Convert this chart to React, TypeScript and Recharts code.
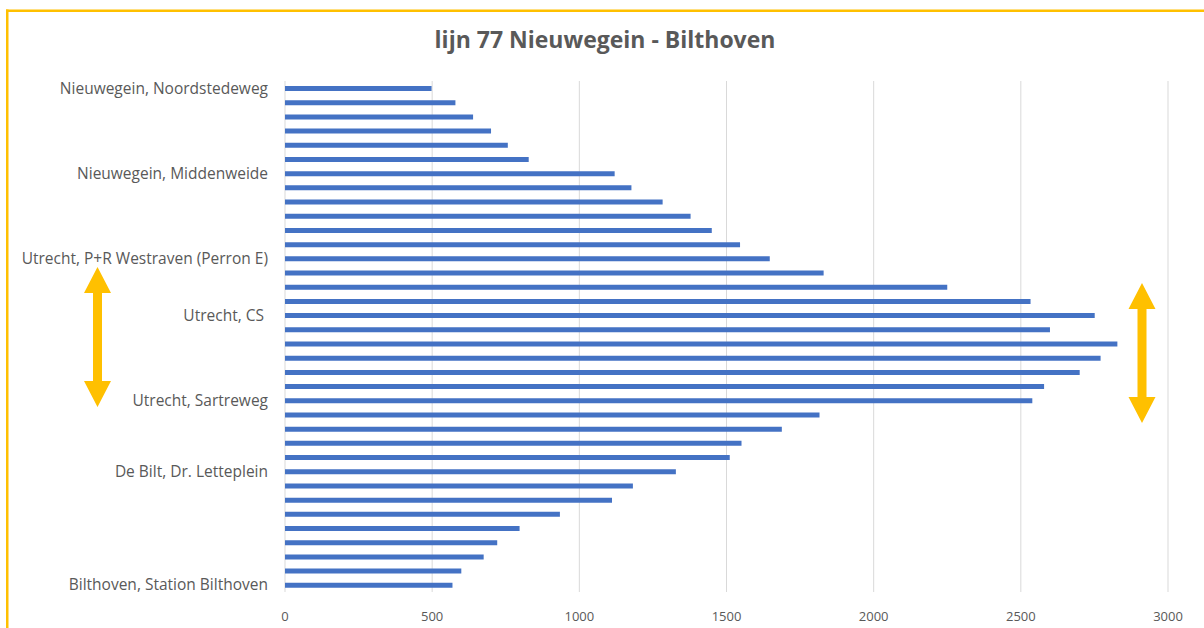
import { BarChart, Bar, XAxis, YAxis, CartesianGrid } from "recharts";

// stop labels (only some stops carry a name on the axis)
const stopLabels = [
  "Nieuwegein, Noordstedeweg", "", "", "", "", "",
  "Nieuwegein, Middenweide", "", "", "", "", "",
  "Utrecht, P+R Westraven (Perron E)", "", "", "",
  "Utrecht, CS\u00A0", "", "", "", "", "",
  "Utrecht, Sartreweg", "", "", "", "",
  "De Bilt, Dr. Letteplein", "", "", "", "", "", "", "",
  "Bilthoven, Station Bilthoven",
];

// passengers per stop
const passengers = [
  498, 579, 639, 700, 757, 828,
  1120, 1177, 1283, 1378, 1450, 1546,
  1647, 1830, 2250, 2533, 2751, 2599,
  2828, 2771, 2700, 2579, 2539, 1816,
  1688, 1551, 1511, 1328, 1182, 1111,
  934, 797, 721, 675, 599, 569,
];

const xTicks = [0, 500, 1000, 1500, 2000, 2500, 3000];

const TITLE = "lijn 77 Nieuwegein - Bilthoven";
const GOLD = "#FFC000";
const TEXT = "#595959";
const FONT = "'Open Sans', sans-serif";

const data = passengers.map((v, i) => ({ idx: i, value: v }));

// double-headed block arrow, centred on cx
function Arrow({ cx, top, bottom }: { cx: number; top: number; bottom: number }) {
  const head = 26, hw = 13.5, sw = 4.5;
  const d = [
    `M${cx} ${top}`,
    `L${cx + hw} ${top + head}`,
    `L${cx + sw} ${top + head}`,
    `L${cx + sw} ${bottom - head}`,
    `L${cx + hw} ${bottom - head}`,
    `L${cx} ${bottom}`,
    `L${cx - hw} ${bottom - head}`,
    `L${cx - sw} ${bottom - head}`,
    `L${cx - sw} ${top + head}`,
    `L${cx - hw} ${top + head}`,
    "Z",
  ].join(" ");
  return <path d={d} fill={GOLD} />;
}

export default function App() {
  return (
    <div style={{ position: "absolute", left: 0, top: 0, width: 1204, height: 628, background: "#fff", fontFamily: FONT }}>
      <BarChart
        width={1204}
        height={628}
        data={data}
        layout="vertical"
        margin={{ top: 81, right: 36, bottom: 0, left: 0 }}
      >
        <CartesianGrid horizontal={false} stroke="#d9d9d9" />
        <XAxis
          type="number"
          domain={[0, 3000]}
          ticks={xTicks}
          height={36}
          tickLine={false}
          axisLine={false}
          tickMargin={14}
          tick={{ fill: TEXT, fontSize: 13, fontFamily: FONT }}
        />
        <YAxis
          type="category"
          dataKey="idx"
          width={285}
          interval={0}
          tickLine={false}
          axisLine={false}
          tickMargin={11}
          tickFormatter={(i: number) => stopLabels[i]}
          tick={{ fill: TEXT, fontSize: 15.5, fontFamily: FONT }}
        />
        <Bar dataKey="value" fill="#4472C4" barSize={5} isAnimationActive={false} />
      </BarChart>

      <svg width={1204} height={628} style={{ position: "absolute", left: 0, top: 0, pointerEvents: "none" }}>
        <rect x={6} y={9.5} width={1198} height={2.5} fill={GOLD} />
        <rect x={6} y={9.5} width={2.5} height={620} fill={GOLD} />
        <text x={605} y={48} textAnchor="middle" fill={TEXT} fontSize={23} fontWeight={700} fontFamily={FONT}>
          {TITLE}
        </text>
        <Arrow cx={97.5} top={267} bottom={407} />
        <Arrow cx={1142} top={283} bottom={423} />
      </svg>
    </div>
  );
}
